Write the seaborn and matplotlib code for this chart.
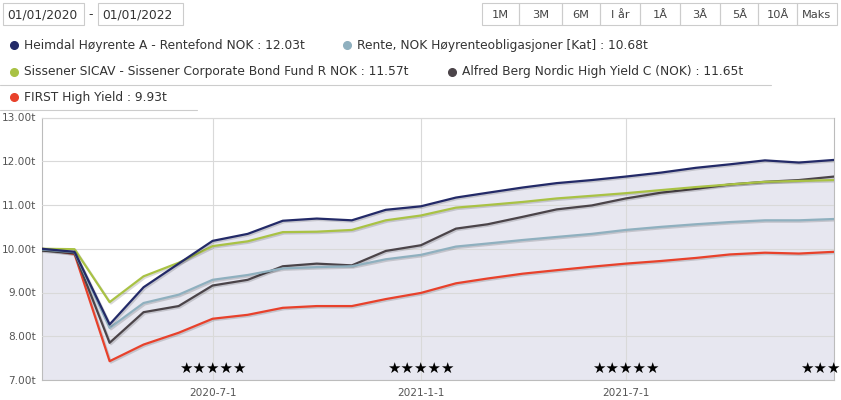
import pandas as pd
import numpy as np
import matplotlib.pyplot as plt
import matplotlib.patheffects as pe
from matplotlib.patches import Rectangle
import seaborn as sns

# monthly values (thousands NOK, "t")
dates = pd.date_range('2020-02-01', periods=24, freq='MS')
heimdal = [10.00, 9.93, 8.27, 9.12, 9.66, 10.18, 10.34, 10.64, 10.69, 10.65, 10.89, 10.97,
           11.17, 11.28, 11.40, 11.50, 11.57, 11.65, 11.74, 11.85, 11.93, 12.02, 11.97, 12.03]
rente = [9.98, 9.92, 8.19, 8.76, 8.95, 9.29, 9.40, 9.55, 9.58, 9.60, 9.76, 9.86,
         10.05, 10.12, 10.20, 10.27, 10.34, 10.43, 10.50, 10.56, 10.61, 10.65, 10.65, 10.68]
sissener = [10.00, 9.99, 8.78, 9.37, 9.68, 10.06, 10.17, 10.38, 10.39, 10.43, 10.65, 10.76,
            10.94, 11.00, 11.07, 11.15, 11.21, 11.27, 11.34, 11.41, 11.47, 11.53, 11.55, 11.57]
alfred = [9.96, 9.90, 7.85, 8.55, 8.69, 9.16, 9.29, 9.60, 9.66, 9.62, 9.95, 10.08,
          10.46, 10.56, 10.73, 10.90, 10.99, 11.15, 11.28, 11.37, 11.47, 11.53, 11.57, 11.65]
first = [10.00, 9.88, 7.43, 7.81, 8.08, 8.40, 8.49, 8.65, 8.69, 8.69, 8.85, 8.99,
         9.21, 9.32, 9.43, 9.51, 9.59, 9.66, 9.72, 9.79, 9.87, 9.91, 9.89, 9.93]

names = ['Heimdal Høyrente A - Rentefond NOK : 12.03t',
         'Rente, NOK Høyrenteobligasjoner [Kat] : 10.68t',
         'Sissener SICAV - Sissener Corporate Bond Fund R NOK : 11.57t',
         'Alfred Berg Nordic High Yield C (NOK) : 11.65t',
         'FIRST High Yield : 9.93t']
colors = ['#232a68', '#8fb0bf', '#a9c244', '#4b4449', '#e8412b']
star_dates = pd.to_datetime(['2020-07-01', '2021-01-01', '2021-07-01', '2022-01-01'])
range_buttons = ['1M', '3M', '6M', 'I år', '1Å', '3Å', '5Å', '10Å', 'Maks']

df = pd.DataFrame({'date': np.tile(dates, 5),
                   'value': heimdal + rente + sissener + alfred + first,
                   'fund': np.repeat(names, 24)})

sns.set_style('white')
plt.rcParams['font.family'] = ['DejaVu Sans']

fig = plt.figure(figsize=(8.41, 4.0), dpi=100)
ax = fig.add_axes([41.7 / 841, 20 / 400, (834 - 41.7) / 841, (380 - 117.5) / 400])

ax.fill_between(dates, heimdal, 7, color='#e7e7f0', zorder=1)
shadow = [pe.SimpleLineShadow(offset=(1, -1), alpha=0.15, shadow_color='black'), pe.Normal()]
sns.lineplot(data=df, x='date', y='value', hue='fund', hue_order=names[::-1],
             palette=dict(zip(names, colors)), linewidth=1.6, legend=False, ax=ax,
             path_effects=shadow, zorder=3)

ax.set_xlim(dates[0], pd.Timestamp('2022-01-01'))
ax.set_ylim(7, 13)
ax.set_yticks(range(7, 14))
ax.set_yticklabels([f'{v:.2f}t' for v in range(7, 14)])
ax.set_xticks(star_dates[:3])
ax.set_xticklabels([f'{d.year}-{d.month}-{d.day}' for d in star_dates[:3]])
ax.tick_params(labelsize=7.6, colors='#555555', length=0, pad=6)
ax.tick_params(axis='y', pad=4)
ax.grid(True, color='#d9d9d9', linewidth=0.8, zorder=2)
ax.set_axisbelow(False)
for s in ax.spines.values():
    s.set_color('#bcbcbc')
    s.set_linewidth(0.8)
ax.set_xlabel('')
ax.set_ylabel('')

for d in star_dates:
    ax.text(d, 7.27, '★★★★★', ha='center', va='center', fontsize=10.8,
            color='black', clip_on=False, zorder=5)

# header widgets and legend in pixel coordinates
top = fig.add_axes([0, 0, 1, 1], zorder=-1)
top.set_xlim(0, 841)
top.set_ylim(400, 0)
top.axis('off')

for x0, x1, t in [(3, 84, '01/01/2020'), (98, 183, '01/01/2022')]:
    top.add_patch(Rectangle((x0, 3), x1 - x0, 22, fill=False, edgecolor='#cccccc', lw=0.8))
    top.text(x0 + 4, 15, t, fontsize=8.8, color='#333333', va='center')
top.text(91, 15, '-', fontsize=8.8, color='#333333', va='center', ha='center')

edges = [482.3, 519, 561.7, 600, 640, 680, 720, 758.3, 796.7, 837.3]
for i, b in enumerate(range_buttons):
    top.add_patch(Rectangle((edges[i], 3), edges[i + 1] - edges[i], 22, fill=False,
                            edgecolor='#cccccc', lw=0.8))
    top.text((edges[i] + edges[i + 1]) / 2, 15, b, fontsize=8.2, color='#444444',
             ha='center', va='center')

legend_pos = [(14, 45), (347, 45), (14, 72), (452, 72), (14, 97)]
for (x, y), n, c in zip(legend_pos, names, colors):
    top.plot(x, y, 'o', ms=5.5, color=c)
    top.text(x + 10, y, n, fontsize=8.85, color='#333333', va='center')
top.plot([0, 771], [85, 85], color='#cccccc', lw=0.8)
top.plot([0, 197], [110, 110], color='#cccccc', lw=0.8)

fig.savefig('out.png', dpi=100)
